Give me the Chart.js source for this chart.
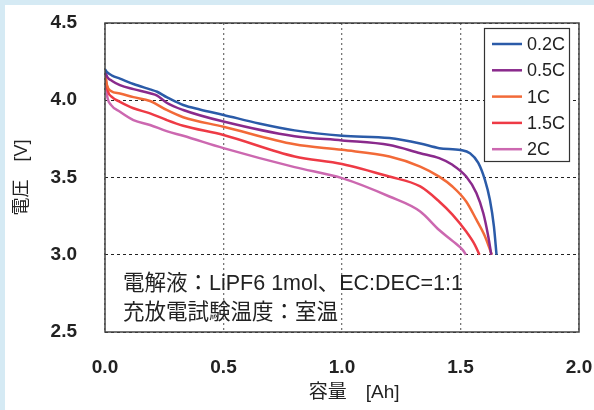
<!DOCTYPE html>
<html>
<head>
<meta charset="utf-8">
<script src="https://cdn.jsdelivr.net/npm/chart.js@4.4.1/dist/chart.umd.min.js"></script>
<style>
  html, body { margin: 0; padding: 0; background: #d5eaf4; }
  #wrap { width: 594px; height: 410px; position: relative; }
</style>
</head>
<body>
<div id="wrap"><canvas id="chart" width="594" height="410"></canvas></div>
<script>
// discharge curves: capacity [Ah] and voltage [V]
const seriesNames = ['0.2C', '0.5C', '1C', '1.5C', '2C'];
const seriesColors = ['#2b5ba8', '#8a2a8c', '#f26a38', '#ee3a45', '#cc68b0'];

const cap02 = [0, 0.01, 0.03, 0.063, 0.12, 0.19, 0.22, 0.26, 0.3, 0.33, 0.4, 0.5, 0.65, 0.8, 1.0, 1.2, 1.33, 1.41, 1.5, 1.54, 1.575, 1.603, 1.624, 1.641, 1.652];
const volt02 = [4.2, 4.18, 4.16, 4.14, 4.105, 4.07, 4.055, 4.02, 3.99, 3.969, 3.94, 3.905, 3.85, 3.805, 3.77, 3.755, 3.72, 3.69, 3.678, 3.657, 3.595, 3.485, 3.356, 3.184, 3.0];

const cap05 = [0, 0.01, 0.03, 0.063, 0.12, 0.19, 0.22, 0.26, 0.33, 0.5, 0.8, 1.0, 1.2, 1.33, 1.41, 1.466, 1.524, 1.567, 1.596, 1.617, 1.63];
const volt05 = [4.19, 4.15, 4.125, 4.098, 4.072, 4.045, 4.03, 3.984, 3.937, 3.862, 3.767, 3.74, 3.71, 3.657, 3.625, 3.582, 3.506, 3.4, 3.27, 3.12, 3.0];

const cap1 = [0, 0.008, 0.025, 0.063, 0.12, 0.19, 0.26, 0.33, 0.5, 0.8, 1.0, 1.2, 1.33, 1.41, 1.466, 1.524, 1.567, 1.603, 1.632];
const volt1 = [4.18, 4.1, 4.06, 4.044, 4.02, 3.995, 3.937, 3.89, 3.829, 3.715, 3.679, 3.636, 3.571, 3.506, 3.442, 3.345, 3.227, 3.12, 3.0];

const cap15 = [0, 0.012, 0.03, 0.063, 0.12, 0.19, 0.26, 0.33, 0.5, 0.8, 1.0, 1.2, 1.33, 1.41, 1.466, 1.524, 1.56, 1.58];
const volt15 = [4.17, 4.06, 4.02, 3.99, 3.948, 3.915, 3.872, 3.835, 3.775, 3.636, 3.588, 3.506, 3.442, 3.345, 3.26, 3.15, 3.066, 3.0];

const cap2 = [0, 0.01, 0.025, 0.063, 0.12, 0.19, 0.26, 0.33, 0.5, 0.8, 1.0, 1.2, 1.33, 1.41, 1.466, 1.51, 1.523];
const volt2 = [4.15, 4.02, 3.97, 3.926, 3.872, 3.84, 3.8, 3.77, 3.69, 3.567, 3.496, 3.377, 3.28, 3.16, 3.09, 3.03, 3.0];

const capacities = [cap02, cap05, cap1, cap15, cap2];
const voltages = [volt02, volt05, volt1, volt15, volt2];

const noteLines = ['電解液：LiPF6 1mol、EC:DEC=1:1', '充放電試験温度：室温'];

const FONT = "'Liberation Sans', 'Noto Sans CJK JP', sans-serif";

function noScalePadding(scale) {
    scale.paddingLeft = 0;
    scale.paddingRight = 0;
    scale.paddingTop = 0;
    scale.paddingBottom = 0;
}

const panelPlugin = {
    id: 'panel',
    beforeDraw(chart) {
        const ctx = chart.ctx;
        ctx.save();
        ctx.fillStyle = '#d5eaf4';
        ctx.fillRect(0, 0, chart.width, chart.height);
        ctx.fillStyle = '#ffffff';
        ctx.fillRect(5, 5, chart.width - 5, chart.height - 5);
        ctx.restore();
    },
    afterDraw(chart) {
        const ctx = chart.ctx;
        const a = chart.chartArea;
        ctx.save();
        // frame
        ctx.strokeStyle = '#444';
        ctx.lineWidth = 1.5;
        ctx.strokeRect(a.left, a.top, a.right - a.left, a.bottom - a.top);

        // note text
        ctx.fillStyle = '#222';
        ctx.font = '21.5px ' + FONT;
        ctx.textBaseline = 'middle';
        ctx.textAlign = 'left';
        noteLines.forEach((t, i) => ctx.fillText(t, 123, 284 + i * 29));

        // legend box
        ctx.fillStyle = '#fff';
        ctx.fillRect(484.5, 28.5, 85, 133);
        ctx.strokeStyle = '#333';
        ctx.lineWidth = 1.2;
        ctx.strokeRect(484.5, 28.5, 85, 133);
        ctx.font = '18px ' + FONT;
        chart.data.datasets.forEach((ds, i) => {
            const y = 44 + i * 26.3;
            ctx.strokeStyle = ds.borderColor;
            ctx.lineWidth = 2.5;
            ctx.beginPath();
            ctx.moveTo(492, y);
            ctx.lineTo(522, y);
            ctx.stroke();
            ctx.fillStyle = '#222';
            ctx.fillText(ds.label, 527, y + 1);
        });
        ctx.restore();
    }
};

new Chart(document.getElementById('chart').getContext('2d'), {
    type: 'line',
    data: {
        datasets: seriesNames.map((name, i) => ({
            label: name,
            data: capacities[i].map((c, j) => ({ x: c, y: voltages[i][j] })),
            borderColor: seriesColors[i],
            backgroundColor: seriesColors[i],
            borderWidth: 2.5,
            pointRadius: 0,
            cubicInterpolationMode: 'monotone',
            fill: false
        }))
    },
    options: {
        responsive: false,
        animation: false,
        layout: { padding: { top: 23, right: 15, left: 0, bottom: 0 } },
        plugins: { legend: { display: false }, tooltip: { enabled: false } },
        scales: {
            x: {
                type: 'linear',
                min: 0,
                max: 2,
                afterFit(scale) { scale.height = 78; noScalePadding(scale); },
                ticks: {
                    stepSize: 0.5,
                    padding: 24,
                    color: '#222',
                    font: { family: FONT, size: 19, weight: 'bold' },
                    callback: v => v.toFixed(1)
                },
                grid: { color: '#777', lineWidth: 1.3, drawTicks: false },
                border: { display: false, dash: [2, 3] },
                title: {
                    display: true,
                    text: '　 容量　[Ah]',
                    color: '#222',
                    font: { family: FONT, size: 19 },
                    padding: { top: 0, bottom: 6 }
                }
            },
            y: {
                min: 2.5,
                max: 4.5,
                afterFit(scale) { scale.width = 105; noScalePadding(scale); },
                ticks: {
                    stepSize: 0.5,
                    padding: 28,
                    color: '#222',
                    font: { family: FONT, size: 19, weight: 'bold' },
                    callback: v => v.toFixed(1)
                },
                grid: { color: '#222', lineWidth: 1, drawTicks: false },
                border: { display: false, dash: [3, 3] },
                title: {
                    display: true,
                    text: '電圧　[V]',
                    color: '#222',
                    font: { family: FONT, size: 18 },
                    padding: { top: 11, bottom: 0 }
                }
            }
        }
    },
    plugins: [panelPlugin]
});
</script>
</body>
</html>
